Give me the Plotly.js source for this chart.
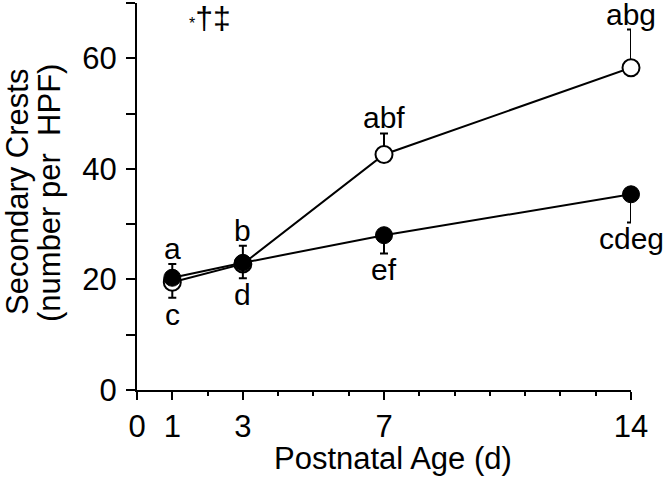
<!DOCTYPE html>
<html>
<head>
<meta charset="utf-8">
<script src="https://cdn.plot.ly/plotly-3.0.1.min.js"></script>
<style>html,body{margin:0;padding:0;background:#fff;}#chart{width:663px;height:477px;}</style>
</head>
<body>
<div id="chart"></div>
<script>
// Data
const days = [1, 3, 7, 14];
const openMean = [19.5, 22.8, 42.6, 58.3];
const openErrUp = [0, 3.3, 3.8, 6.9];
const openErrDown = [2.8, 0, 0, 0];
const filledMean = [20.3, 23.0, 28.0, 35.4];
const filledErrUp = [2.5, 0, 0, 0];
const filledErrDown = [0, 2.8, 3.3, 5.1];
const labelsAbove = ['a', 'b', 'abf', 'abg'];
const labelsBelow = ['c', 'd', 'ef', 'cdeg'];
const xTickVals = [0, 1, 3, 7, 14];
const xTickText = ['0', '1', '3', '7', '14'];
const xMinorVals = [2, 4, 5, 6, 8, 9, 10, 11, 12, 13];
const yTickVals = [0, 10, 20, 30, 40, 50, 60, 70];
const yTickText = ['0', '', '20', '', '40', '', '60', ''];
const sigText = '<span style="font-size:16px">*</span>\u2020\u2021';
const xTitle = 'Postnatal Age (d)';
const yTitle1 = 'Secondary Crests';
const yTitle2 = '(number per\u00a0\u00a0HPF)';

const FONT = 'Liberation Sans, Arial, Helvetica, sans-serif';
const LABEL_SIZE = 30;

const openTrace = {
  x: days, y: openMean, type: 'scatter', mode: 'lines+markers',
  line: {color: '#000', width: 2},
  marker: {size: 17, color: '#fff', line: {color: '#000', width: 2}},
  error_y: {type: 'data', symmetric: false, array: openErrUp, arrayminus: openErrDown,
            color: '#000', thickness: 2, width: 4},
  cliponaxis: false, showlegend: false, hoverinfo: 'x+y'
};
const filledTrace = {
  x: days, y: filledMean, type: 'scatter', mode: 'lines+markers',
  line: {color: '#000', width: 2},
  marker: {size: 17, color: '#000', line: {color: '#000', width: 1}},
  error_y: {type: 'data', symmetric: false, array: filledErrUp, arrayminus: filledErrDown,
            color: '#000', thickness: 2, width: 4},
  cliponaxis: false, showlegend: false, hoverinfo: 'x+y'
};

// convert a pixel row of the 663x477 page into paper y
const pyToPaper = py => (390 - py) / 387;

const annotations = [];
days.forEach((d, i) => {
  const top = Math.max(openMean[i] + openErrUp[i], filledMean[i] + filledErrUp[i]);
  const bot = Math.min(openMean[i] - openErrDown[i], filledMean[i] - filledErrDown[i]);
  annotations.push({x: d, y: top, xref: 'x', yref: 'y', text: labelsAbove[i], showarrow: false,
    yanchor: 'bottom', xanchor: 'center', yshift: -2, borderpad: 0,
    font: {family: FONT, size: LABEL_SIZE, color: '#000'}});
  annotations.push({x: d, y: bot, xref: 'x', yref: 'y', text: labelsBelow[i], showarrow: false,
    yanchor: 'top', xanchor: 'center', yshift: 1, borderpad: 0,
    font: {family: FONT, size: LABEL_SIZE, color: '#000'}});
});
// significance symbols, top left of plot
annotations.push({x: 2.07, y: 67.3, xref: 'x', yref: 'y', text: sigText, showarrow: false,
  xanchor: 'center', yanchor: 'middle', font: {family: FONT, size: 32, color: '#000'}});
// y-axis title (two rotated lines)
annotations.push({x: 0, y: pyToPaper(192), xref: 'paper', yref: 'paper', text: yTitle1, showarrow: false,
  textangle: -90, xanchor: 'center', yanchor: 'middle', xshift: -120,
  font: {family: FONT, size: 31, color: '#000'}});
annotations.push({x: 0, y: pyToPaper(193), xref: 'paper', yref: 'paper', text: yTitle2, showarrow: false,
  textangle: -90, xanchor: 'center', yanchor: 'middle', xshift: -87,
  font: {family: FONT, size: 31, color: '#000'}});
// x-axis title
annotations.push({x: (393 - 137) / 494, y: 0, xref: 'paper', yref: 'paper', text: xTitle, showarrow: false,
  xanchor: 'center', yanchor: 'top', yshift: -49,
  font: {family: FONT, size: 31, color: '#000'}});

const layout = {
  width: 663, height: 477,
  margin: {l: 137, r: 32, t: 3, b: 87, pad: 0},
  paper_bgcolor: '#fff', plot_bgcolor: '#fff',
  font: {family: FONT, color: '#000', size: 30},
  showlegend: false,
  xaxis: {
    range: [0, 14], showgrid: false, zeroline: false,
    showline: true, linecolor: '#000', linewidth: 2,
    tickmode: 'array', tickvals: xTickVals, ticktext: xTickText,
    ticks: 'outside', ticklen: 8, tickwidth: 2, tickcolor: '#000',
    tickfont: {family: FONT, size: 31, color: '#000'},
    minor: {tickmode: 'array', tickvals: xMinorVals, ticks: 'outside', ticklen: 4, tickwidth: 2, tickcolor: '#000', showgrid: false}
  },
  yaxis: {
    range: [0, 70], showgrid: false, zeroline: false,
    showline: true, linecolor: '#000', linewidth: 2,
    tickmode: 'array', tickvals: yTickVals, ticktext: yTickText,
    ticks: 'outside', ticklen: 9, tickwidth: 2, tickcolor: '#000',
    ticklabelstandoff: 3,
    tickfont: {family: FONT, size: 31, color: '#000'}
  },
  annotations: annotations
};

Plotly.newPlot('chart', [openTrace, filledTrace], layout, {displayModeBar: false, staticPlot: true});
</script>
</body>
</html>
